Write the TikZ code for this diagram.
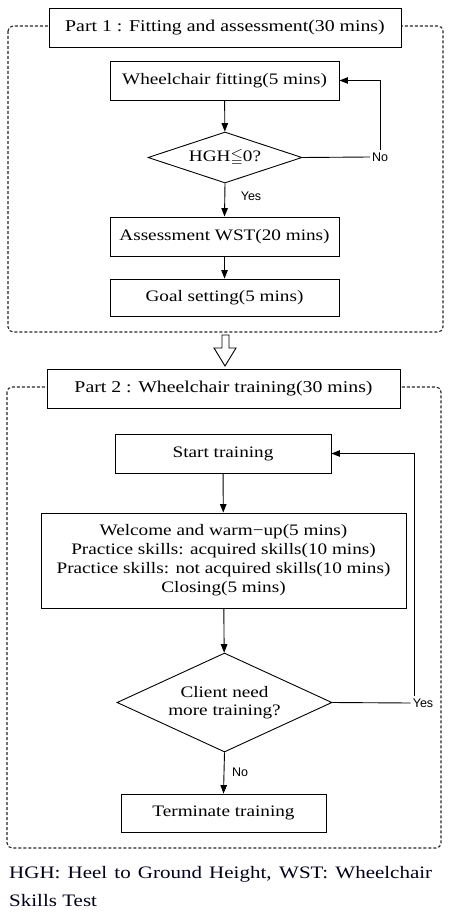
\documentclass[tikz,border=0pt]{standalone}
\usepackage{amssymb}
\usepackage{fontspec}
\setmainfont[FakeStretch=1.2]{Liberation Serif}
\newfontfamily\lblfont{Liberation Sans}
\usetikzlibrary{shapes.geometric,arrows.meta}
\tikzset{
  box/.style={draw, line width=0.9pt, fill=white, inner sep=0pt, align=center, font=\fontsize{16}{19}\selectfont},
  dia/.style={draw, line width=0.9pt, fill=white, diamond, aspect=2, inner sep=0pt, align=center, font=\fontsize{16}{18}\selectfont},
  lbl/.style={inner sep=2pt, font=\lblfont\fontsize{12.5}{14}\selectfont},
  arr/.style={line width=0.9pt, -{Triangle[length=8.5pt,width=6.5pt]}},
  ln/.style={line width=0.9pt},
  dashbox/.style={draw=black!85, line width=1.1pt, dash pattern=on 3pt off 2pt, rounded corners=5pt},
}
\begin{document}
\begin{tikzpicture}[x=1pt,y=-1pt]
\useasboundingbox (0,0) rectangle (449,915);
% dashed frames
\draw[dashbox] (8,26) rectangle (443,332);
\draw[dashbox] (7,387) rectangle (441,848);
% Part 1
\node[box, minimum width=352pt, minimum height=39pt, font=\fontsize{16.5}{19}\selectfont] (p1) at (225,27.5) {Part 1 : Fitting and assessment(30 mins)};
\node[box, minimum width=229pt, minimum height=39pt] (fit) at (224.5,80.5) {Wheelchair fitting(5 mins)};
\node[dia, minimum width=154pt, minimum height=51pt, aspect=3] (hgh) at (225,157.5) {HGH$\leqq$0?};
\node[lbl] (no1) at (380,157) {No};
\node[box, minimum width=229pt, minimum height=39pt] (assess) at (224.5,236.5) {Assessment WST(20 mins)};
\node[box, minimum width=229pt, minimum height=37pt] (goal) at (224.5,297.5) {Goal setting(5 mins)};
\node[lbl] (yes1) at (251,196) {Yes};
\draw[arr] (fit) -- (hgh);
\draw[ln] (hgh.east) -- (no1.west);
\draw[arr] (no1.north) |- (fit.east);
\draw[arr] (hgh.south) -- (assess.north);
\draw[arr] (assess) -- (goal);
% transition arrow
\draw[line width=0.9pt, fill=white] (222,335) -- (229,335) -- (229,348) -- (236,348) -- (225,366) -- (214,348) -- (222,348) -- cycle;
% Part 2
\node[box, minimum width=353pt, minimum height=39pt, font=\fontsize{16.5}{19}\selectfont] (p2) at (223.5,388.5) {Part 2 : Wheelchair training(30 mins)};
\node[box, minimum width=216pt, minimum height=39pt] (start) at (223,453.5) {Start training};
\node[box, minimum width=365pt, minimum height=95pt] (welcome) at (223.5,560.5) {Welcome and warm−up(5 mins)\\Practice skills: acquired skills(10 mins)\\Practice skills: not acquired skills(10 mins)\\Closing(5 mins)};
\node[dia, minimum width=215pt, minimum height=99pt] (client) at (224.5,702.5) {Client need\\more training?};
\node[lbl] (yes2) at (423,703) {Yes};
\node[lbl] (no2) at (240,772) {No};
\node[box, minimum width=205pt, minimum height=38pt] (term) at (223.5,813) {Terminate training};
\coordinate (ytop) at ([xshift=4pt]yes2.north west);
\draw[arr] (start) -- (welcome);
\draw[arr] (welcome) -- (client);
\draw[ln] (client.east) -- (yes2.west);
\draw[arr] (ytop) |- (start.east);
\draw[arr] (client.south) -- (term.north);
% caption
\node[anchor=west, inner sep=0pt, font=\fontsize{17.5}{20}\selectfont, text=black!90!blue] (cap1) at (9,874) {\makebox[423pt][s]{HGH: Heel to Ground Height, WST: Wheelchair}};
\node[anchor=west, inner sep=0pt, font=\fontsize{17.5}{20}\selectfont, text=black!90!blue] (cap2) at (9,901) {Skills Test};
\end{tikzpicture}
\end{document}
